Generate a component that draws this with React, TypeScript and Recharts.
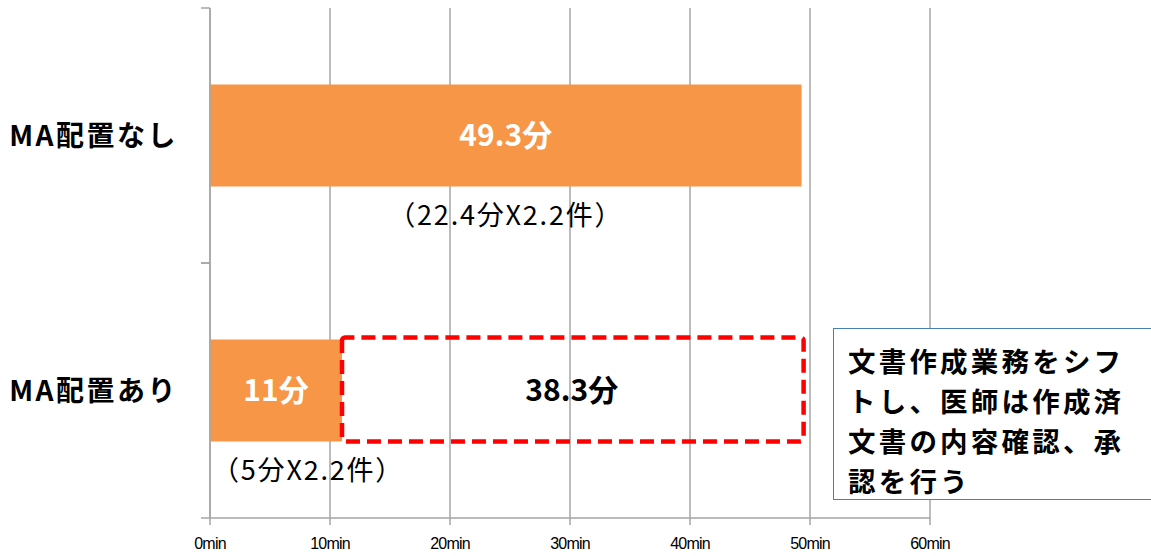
import React from "react";
import { BarChart, Bar, XAxis, YAxis, CartesianGrid, LabelList, Rectangle } from "recharts";

// minutes per day spent on documents, with and without a medical assistant
const groups = ["MA配置なし", "MA配置あり"];
const doctorMinutes = [49.3, 11];
const shiftedMinutes = [0, 38.3];
const caseNotes = ["（22.4分X2.2件）", "（5分X2.2件）"];
const minuteTicks = [0, 10, 20, 30, 40, 50, 60];
const calloutLines = ["文書作成業務をシフ", "トし、医師は作成済", "文書の内容確認、承", "認を行う"];

const rows = groups.map((name, i) => ({
  name,
  doctor: doctorMinutes[i],
  shifted: shiftedMinutes[i],
  note: caseNotes[i],
}));

const GRID = "#a6a6a6";
const ORANGE = "#f79646";
const JP = '"Noto Sans CJK JP", "Noto Sans", sans-serif';
const LATIN = '"Liberation Sans", Arial, sans-serif';
const LABEL_GAP = 32;

function rect(p: any) {
  const vb = p.viewBox ?? p;
  return { x: Number(vb.x), y: Number(vb.y), w: Number(vb.width), h: Number(vb.height) };
}

function ValueLabel(color: string) {
  return (p: any) => {
    if (!p.value) return null;
    const r = rect(p);
    return (
      <text x={r.x + r.w / 2} y={r.y + r.h / 2} dy="0.36em" textAnchor="middle"
        fill={color} fontFamily={JP} fontWeight={700} fontSize={30}>
        {p.value}分
      </text>
    );
  };
}

function NoteLabel(p: any) {
  const r = rect(p);
  const first = p.index === 0;
  return (
    <text x={first ? r.x + r.w / 2 : r.x + 2} y={r.y + r.h + 29} dy="0.36em"
      textAnchor={first ? "middle" : "start"} fill="#000" fontFamily={JP} fontSize={27}
      letterSpacing={1.8}>
      {p.value}
    </text>
  );
}

function DashedShape(p: any) {
  if (!p.width || p.width <= 0) return null;
  return (
    <Rectangle x={p.x} y={p.y - 2} width={p.width + 2} height={p.height + 2}
      fill="none" stroke="#ff0000" strokeWidth={4.5} strokeDasharray="14 7" radius={3} />
  );
}

// category name, plus tick marks on the band edges rather than the centre
function GroupTick(p: any) {
  const half = Number(p.payload.offset) || 0;
  const axisX = p.x + LABEL_GAP;
  return (
    <g>
      {half > 0 && (
        <g stroke={GRID} strokeWidth={1.5}>
          <line x1={axisX - 9} x2={axisX} y1={p.y - half} y2={p.y - half} />
          <line x1={axisX - 9} x2={axisX} y1={p.y + half} y2={p.y + half} />
        </g>
      )}
      <text x={p.x} y={p.y} dy="0.36em" textAnchor="end" fill="#000"
        fontFamily={JP} fontWeight={700} fontSize={28} letterSpacing={2.5}>
        {p.payload.value}
      </text>
    </g>
  );
}

function MinuteTick(p: any) {
  return (
    <text x={p.x} y={p.y} dy="0.71em" textAnchor="middle" fill="#000"
      fontFamily={LATIN} fontSize={16} letterSpacing={-0.8}>
      {`${p.payload.value}min`}
    </text>
  );
}

export default function App() {
  return (
    <div style={{ position: "absolute", left: 0, top: 0, width: 1151, height: 556, background: "#fff" }}>
      <BarChart width={1151} height={556} data={rows} layout="vertical"
        barCategoryGap="30%" margin={{ top: 8, right: 221, bottom: 8, left: 0 }}>
        <CartesianGrid horizontal={false} stroke={GRID} strokeWidth={1.5} />
        <XAxis type="number" domain={[0, 60]} ticks={minuteTicks} height={30}
          stroke={GRID} strokeWidth={1.5} tickSize={7} tick={<MinuteTick />} tickMargin={13} />
        <YAxis type="category" dataKey="name" width={210} stroke={GRID} strokeWidth={1.5}
          tickLine={false} tickSize={0} tickMargin={LABEL_GAP} tick={<GroupTick />} />
        <Bar dataKey="doctor" stackId="t" fill={ORANGE} isAnimationActive={false}>
          <LabelList dataKey="doctor" content={ValueLabel("#fff")} />
          <LabelList dataKey="note" content={NoteLabel} />
        </Bar>
        <Bar dataKey="shifted" stackId="t" fill="none" shape={DashedShape} isAnimationActive={false}>
          <LabelList dataKey="shifted" content={ValueLabel("#000")} />
        </Bar>
      </BarChart>
      <div style={{
        position: "absolute", left: 833, top: 328, width: 330, height: 172,
        boxSizing: "border-box", border: "1.5px solid #4a7ebb", background: "#fff",
        padding: "11px 0 0 14px", fontFamily: JP, fontWeight: 700, fontSize: 27.5,
        letterSpacing: 3.2, lineHeight: "40px", color: "#000", whiteSpace: "nowrap",
      }}>
        {calloutLines.map((line) => (
          <div key={line}>{line}</div>
        ))}
      </div>
    </div>
  );
}
